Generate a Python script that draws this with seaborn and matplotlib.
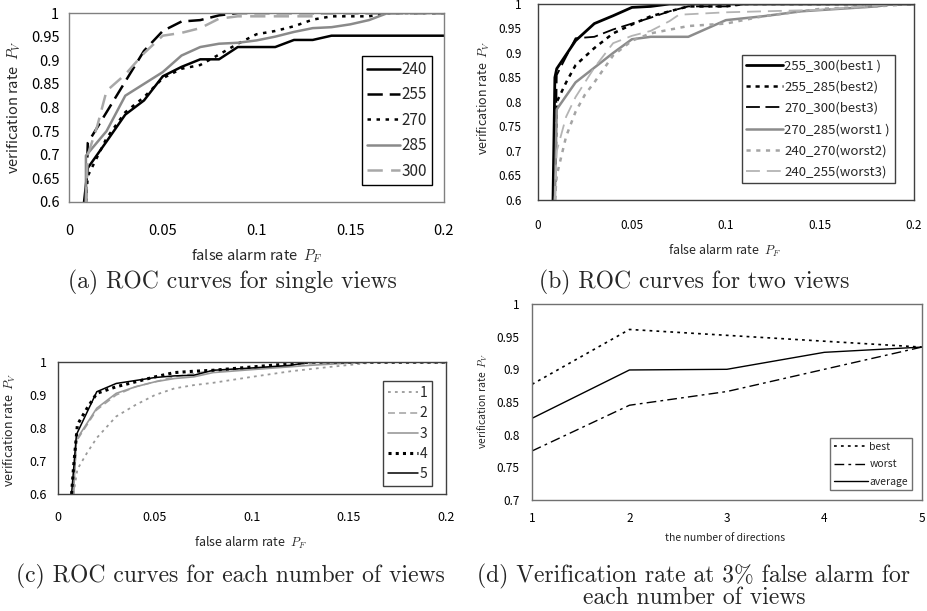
import matplotlib
matplotlib.use("Agg")
import matplotlib.pyplot as plt
import seaborn as sns
from matplotlib.ticker import FuncFormatter, MultipleLocator

# (a) single views
a_x_240 = [0.008, 0.01, 0.02, 0.03, 0.04, 0.05, 0.06, 0.07, 0.08, 0.09, 0.10, 0.11, 0.12, 0.13, 0.14, 0.2]
a_y_240 = [0.6, 0.672, 0.728, 0.785, 0.815, 0.866, 0.886, 0.902, 0.902, 0.928, 0.928, 0.928, 0.943, 0.943, 0.952, 0.952]
a_x_255 = [0.009, 0.01, 0.02, 0.03, 0.04, 0.05, 0.06, 0.07, 0.08, 0.09, 0.2]
a_y_255 = [0.6, 0.725, 0.79, 0.855, 0.92, 0.962, 0.982, 0.985, 0.995, 1.0, 1.0]
a_x_270 = [0.009, 0.01, 0.02, 0.03, 0.04, 0.05, 0.06, 0.07, 0.08, 0.09, 0.10, 0.11, 0.12, 0.13, 0.14, 0.15, 0.16, 0.17, 0.2]
a_y_270 = [0.6, 0.655, 0.735, 0.79, 0.822, 0.862, 0.882, 0.89, 0.912, 0.935, 0.955, 0.962, 0.972, 0.986, 0.993, 0.993, 0.993, 1.0, 1.0]
a_x_285 = [0.009, 0.009, 0.02, 0.03, 0.04, 0.05, 0.06, 0.07, 0.08, 0.09, 0.10, 0.11, 0.12, 0.13, 0.14, 0.15, 0.16, 0.17, 0.2]
a_y_285 = [0.6, 0.698, 0.75, 0.825, 0.85, 0.875, 0.91, 0.928, 0.935, 0.937, 0.942, 0.95, 0.96, 0.968, 0.970, 0.976, 0.985, 1.0, 1.0]
a_x_300 = [0.009, 0.01, 0.015, 0.02, 0.03, 0.04, 0.05, 0.06, 0.07, 0.08, 0.09, 0.13, 0.135, 0.2]
a_y_300 = [0.6, 0.70, 0.76, 0.835, 0.87, 0.915, 0.952, 0.958, 0.968, 0.988, 0.993, 0.993, 1.0, 1.0]

# (b) two views
b_x_best1 = [0.008, 0.009, 0.01, 0.02, 0.03, 0.04, 0.05, 0.06, 0.07, 0.2]
b_y_best1 = [0.6, 0.85, 0.868, 0.925, 0.96, 0.976, 0.993, 0.995, 1.0, 1.0]
b_x_best2 = [0.009, 0.01, 0.015, 0.02, 0.03, 0.04, 0.05, 0.06, 0.07, 0.08, 0.09, 0.1, 0.11, 0.2]
b_y_best2 = [0.6, 0.80, 0.84, 0.875, 0.91, 0.94, 0.958, 0.975, 0.985, 0.995, 0.995, 0.995, 1.0, 1.0]
b_x_best3 = [0.009, 0.01, 0.02, 0.03, 0.04, 0.05, 0.06, 0.07, 0.08, 0.1, 0.11, 0.2]
b_y_best3 = [0.6, 0.855, 0.93, 0.933, 0.948, 0.96, 0.972, 0.985, 0.995, 0.995, 1.0, 1.0]
b_x_worst1 = [0.009, 0.01, 0.02, 0.03, 0.04, 0.05, 0.06, 0.08, 0.1, 0.12, 0.14, 0.16, 0.18, 0.19, 0.2]
b_y_worst1 = [0.6, 0.785, 0.84, 0.87, 0.9, 0.928, 0.933, 0.933, 0.967, 0.975, 0.985, 0.99, 0.995, 1.0, 1.0]
b_x_worst2 = [0.009, 0.01, 0.015, 0.02, 0.025, 0.03, 0.04, 0.05, 0.06, 0.08, 0.1, 0.12, 0.15, 0.18, 0.2]
b_y_worst2 = [0.6, 0.65, 0.73, 0.78, 0.815, 0.84, 0.895, 0.925, 0.94, 0.955, 0.96, 0.975, 0.99, 0.995, 1.0]
b_x_worst3 = [0.009, 0.01, 0.015, 0.02, 0.03, 0.04, 0.05, 0.06, 0.07, 0.075, 0.1, 0.15, 0.19, 0.2]
b_y_worst3 = [0.6, 0.70, 0.77, 0.81, 0.87, 0.92, 0.935, 0.945, 0.965, 0.978, 0.983, 0.988, 1.0, 1.0]

# (c) each number of views
c_x_1 = [0.008, 0.01, 0.015, 0.02, 0.03, 0.04, 0.05, 0.06, 0.07, 0.08, 0.1, 0.12, 0.14, 0.16, 0.2]
c_y_1 = [0.6, 0.675, 0.725, 0.77, 0.835, 0.87, 0.9, 0.92, 0.93, 0.937, 0.955, 0.972, 0.985, 0.997, 0.997]
c_x_2 = [0.008, 0.0095, 0.02, 0.03, 0.04, 0.05, 0.06, 0.07, 0.08, 0.1, 0.13, 0.15, 0.2]
c_y_2 = [0.6, 0.76, 0.855, 0.9, 0.925, 0.94, 0.955, 0.965, 0.975, 0.98, 0.995, 1.0, 1.0]
c_x_3 = [0.008, 0.0095, 0.02, 0.03, 0.04, 0.05, 0.06, 0.07, 0.08, 0.1, 0.13, 0.16, 0.2]
c_y_3 = [0.6, 0.765, 0.86, 0.905, 0.925, 0.94, 0.95, 0.955, 0.968, 0.977, 0.99, 1.0, 1.0]
c_x_4 = [0.007, 0.008, 0.01, 0.015, 0.02, 0.03, 0.04, 0.05, 0.06, 0.07, 0.08, 0.1, 0.12, 0.13, 0.2]
c_y_4 = [0.6, 0.68, 0.81, 0.86, 0.905, 0.925, 0.94, 0.955, 0.968, 0.972, 0.975, 0.985, 0.995, 1.0, 1.0]
c_x_5 = [0.007, 0.0095, 0.02, 0.03, 0.05, 0.06, 0.07, 0.08, 0.1, 0.12, 0.13, 0.2]
c_y_5 = [0.6, 0.78, 0.91, 0.935, 0.953, 0.958, 0.96, 0.975, 0.982, 0.99, 1.0, 1.0]

# (d) rate at 3% false alarm
d_directions = [1, 2, 3, 4, 5]
d_best = [0.877, 0.961, 0.952, 0.943, 0.934]
d_worst = [0.775, 0.845, 0.866, 0.90, 0.934]
d_average = [0.825, 0.899, 0.90, 0.926, 0.934]

sns.set_style("white")
plt.rcParams["font.family"] = ["Noto Sans CJK JP", "DejaVu Sans"]
plt.rcParams["mathtext.fontset"] = "cm"
plt.rcParams["lines.scale_dashes"] = False

fmt = FuncFormatter(lambda v, p: f"{v:g}")


def draw(ax, xs, ys, label, color, lw, ls):
    sns.lineplot(x=xs, y=ys, ax=ax, color=color, linewidth=lw, linestyle=ls,
                 label=label, sort=False, estimator=None, legend=False)


def style_axes(ax, xlim, ylim, xstep, ystep, fs, frame):
    ax.set_xlim(*xlim)
    ax.set_ylim(*ylim)
    ax.xaxis.set_major_locator(MultipleLocator(xstep))
    ax.yaxis.set_major_locator(MultipleLocator(ystep))
    ax.xaxis.set_major_formatter(fmt)
    ax.yaxis.set_major_formatter(fmt)
    for s in ax.spines.values():
        s.set_color(frame)
        s.set_linewidth(1.0)
    ax.tick_params(labelsize=fs, colors="black")


def legend(ax, anchor, fs, spacing, hlen, edge):
    lg = ax.legend(loc="lower right", bbox_to_anchor=anchor, fontsize=fs,
                   labelspacing=spacing, handlelength=hlen, handletextpad=0.1,
                   borderpad=0.35, borderaxespad=0, fancybox=False,
                   framealpha=1, edgecolor=edge)
    lg.get_frame().set_linewidth(1.0)


fig = plt.figure(figsize=(9.28, 6.11), dpi=100)

# ---- (a)
ax = fig.add_axes([0.0744, 0.6694, 0.404, 0.3093])
draw(ax, a_x_240, a_y_240, "240", "black", 1.8, "-")
draw(ax, a_x_255, a_y_255, "255", "black", 1.8, (0, (11, 5)))
draw(ax, a_x_270, a_y_270, "270", "black", 1.8, (0, (2.5, 4)))
draw(ax, a_x_285, a_y_285, "285", "#8a8a8a", 1.8, "-")
draw(ax, a_x_300, a_y_300, "300", "#a8a8a8", 1.8, (0, (11, 6)))
style_axes(ax, (0, 0.2), (0.6, 1.0), 0.05, 0.05, 10.5, "#808080")
ax.tick_params(axis="y", direction="out", length=4, width=1, color="#808080", pad=3)
ax.tick_params(axis="x", direction="inout", length=4, width=1, color="#808080", pad=14)
ax.set_xlabel(r"false alarm rate  $P_F$", fontsize=10.5)
ax.set_ylabel(r"verification rate  $P_V$", fontsize=10.5)
ax.xaxis.set_label_coords(0.5, -0.243)
ax.yaxis.set_label_coords(-0.123, 0.5)
legend(ax, (0.968, 0.09), 11, 0.55, 2.1, "black")

# ---- (b)
ax = fig.add_axes([0.5797, 0.6727, 0.405, 0.3208])
draw(ax, b_x_best1, b_y_best1, "255_300(best1 )", "black", 2.0, "-")
draw(ax, b_x_best2, b_y_best2, "255_285(best2)", "black", 1.8, (0, (3, 3.5)))
draw(ax, b_x_best3, b_y_best3, "270_300(best3)", "black", 1.3, (0, (10, 4)))
draw(ax, b_x_worst1, b_y_worst1, "270_285(worst1 )", "#8c8c8c", 1.8, "-")
draw(ax, b_x_worst2, b_y_worst2, "240_270(worst2)", "#a4a4a4", 1.8, (0, (3, 4)))
draw(ax, b_x_worst3, b_y_worst3, "240_255(worst3)", "#b4b4b4", 1.3, (0, (10, 5)))
style_axes(ax, (0, 0.2), (0.6, 1.0), 0.05, 0.05, 8.5, "#404040")
ax.tick_params(axis="y", direction="out", length=6, width=1, color="#404040", pad=6)
ax.tick_params(axis="x", direction="in", length=3, width=1, color="#404040", pad=14)
ax.set_xlabel(r"false alarm rate  $P_F$", fontsize=9)
ax.set_ylabel(r"verification rate  $P_V$", fontsize=9)
ax.xaxis.set_label_coords(0.497, -0.217)
ax.yaxis.set_label_coords(-0.122, 0.52)
legend(ax, (0.949, 0.086), 9.5, 0.62, 2.8, "#404040")

# ---- (c)
ax = fig.add_axes([0.0625, 0.1915, 0.418, 0.216])
draw(ax, c_x_1, c_y_1, "1", "#9a9a9a", 1.3, (0, (2, 3)))
draw(ax, c_x_2, c_y_2, "2", "#a0a0a0", 1.1, (0, (5, 3)))
draw(ax, c_x_3, c_y_3, "3", "#9a9a9a", 1.2, "-")
draw(ax, c_x_4, c_y_4, "4", "black", 2.2, (0, (2.2, 3)))
draw(ax, c_x_5, c_y_5, "5", "black", 1.1, "-")
style_axes(ax, (0, 0.2), (0.6, 1.0), 0.05, 0.1, 9, "#404040")
ax.tick_params(axis="y", direction="out", length=3, width=1, color="#404040", pad=5)
ax.tick_params(axis="x", direction="in", length=3, width=1, color="#404040", pad=12)
ax.set_xlabel(r"false alarm rate  $P_F$", fontsize=9)
ax.set_ylabel(r"verification rate  $P_V$", fontsize=9)
ax.xaxis.set_label_coords(0.497, -0.31)
ax.yaxis.set_label_coords(-0.103, 0.485)
legend(ax, (0.964, 0.06), 10, 0.45, 2.15, "#404040")

# ---- (d)
ax = fig.add_axes([0.5733, 0.1817, 0.420, 0.3208])
draw(ax, d_directions, d_best, "best", "black", 1.2, (0, (2, 3)))
draw(ax, d_directions, d_worst, "worst", "black", 1.0, (0, (7, 3, 2, 3)))
draw(ax, d_directions, d_average, "average", "black", 1.0, "-")
style_axes(ax, (1, 5), (0.7, 1.0), 1, 0.05, 8.5, "#707070")
ax.tick_params(axis="both", length=0, pad=9)
ax.set_xlabel("the number of directions", fontsize=7.5)
ax.set_ylabel(r"verification rate  $P_V$", fontsize=7.5)
ax.xaxis.set_label_coords(0.495, -0.168)
ax.yaxis.set_label_coords(-0.108, 0.505)
legend(ax, (0.974, 0.05), 7.5, 0.7, 3.3, "#707070")

# captions
cap = dict(family="cmr10", fontsize=17, ha="center", va="center")
fig.text(232 / 928, 1 - 282 / 611, "(a) ROC curves for single views", **cap)
fig.text(694 / 928, 1 - 282 / 611, "(b) ROC curves for two views", **cap)
fig.text(230 / 928, 1 - 576 / 611, "(c) ROC curves for each number of views", **cap)
fig.text(694 / 928, 1 - 576 / 611, "(d) Verification rate at 3% false alarm for", **cap)
fig.text(694 / 928, 1 - 598 / 611, "each number of views", **cap)

fig.savefig("out.png", dpi=100)
